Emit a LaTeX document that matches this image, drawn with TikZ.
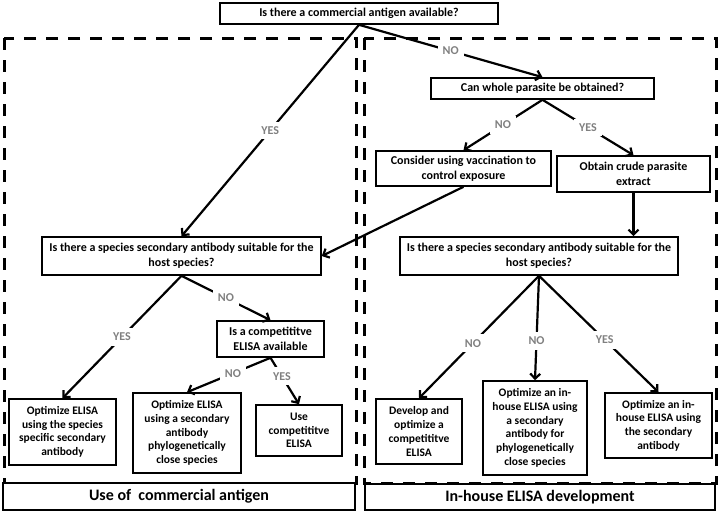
\documentclass[tikz,border=0pt]{standalone}
\usepackage{fontspec}
\setmainfont{Carlito}
\usepackage{tikz}
\usetikzlibrary{arrows.meta}

\begin{document}
\begin{tikzpicture}[
      x=1pt, y=-1pt,
      box/.style={
        draw, line width=1.6pt, fill=white, align=center,
        font=\bfseries\fontsize{11.5}{13.7}\selectfont,
        inner sep=1pt
      },
      midbox/.style={
        box, font=\bfseries\fontsize{12}{14.6}\selectfont
      },
      part/.style={
        draw, line width=2.4pt, fill=white,
        font=\bfseries\fontsize{16}{18}\selectfont
      },
      zone/.style={
        draw, line width=3pt, dash pattern=on 12pt off 10pt
      },
      arr/.style={
        line width=2.2pt, -{Straight Barb[length=5pt,width=10pt]}
      },
      ans/.style={
        fill=white, text=black!50, inner sep=5pt,
        font=\bfseries\fontsize{12}{14}\selectfont
      }
    ]
      \useasboundingbox (0,0) rectangle (720,514);

      % the two dashed zones
      \draw[zone] (4,38) rectangle (356,483);
      \draw[zone] (364,38) rectangle (716,483);
      \node[part, minimum width=352pt, minimum height=27pt] (useC) at (179,496.5){Use of \ commercial antigen};
      \node[part, minimum width=350pt, minimum height=26pt] (inH) at (540,497){In-house ELISA development};

      \node[midbox, minimum width=278pt, minimum height=21pt] (q1) at (359,13.5){Is there a commercial antigen available?};
      \node[midbox, minimum width=223pt, minimum height=21pt] (q2) at (542.5,88.5){Can whole parasite be obtained?};
      \node[midbox, minimum width=175pt, minimum height=35pt] (vacc) at (463.5,168.5){Consider using vaccination to\\control exposure};
      \node[midbox, minimum width=153pt, minimum height=36pt] (crude) at (633.5,174){Obtain crude parasite\\extract};
      \node[midbox, minimum width=279pt, minimum height=38pt] (secL) at (181.5,256){Is there a species secondary antibody suitable for the\\host species?};
      \node[midbox, minimum width=278pt, minimum height=38pt] (secR) at (539,256){Is there a species secondary antibody suitable for the\\host species?};
      \node[midbox, minimum width=107pt, minimum height=36pt] (comp) at (270.5,339){Is a competititve\\ELISA available};

      \node[box, minimum width=107pt, minimum height=66pt] (optL) at (62.5,432){Optimize ELISA\\using the species\\specific secondary\\antibody};
      \node[box, minimum width=108pt, minimum height=80pt] (optM) at (187,433){Optimize ELISA\\using a secondary\\antibody\\phylogenetically\\close species};
      \node[box, minimum width=86pt, minimum height=51pt] (useComp) at (299,430.5){Use\\competititve\\ELISA};
      \node[box, minimum width=86pt, minimum height=65pt] (dev) at (419,431.5){Develop and\\optimize a\\competititve\\ELISA};
      \node[box, minimum width=104pt, minimum height=94pt] (inM) at (535,428){Optimize an in-\\house ELISA using\\a secondary\\antibody for\\phylogenetically\\close species};
      \node[box, minimum width=107pt, minimum height=65pt] (inR) at (658.5,425.5){Optimize an in-\\house ELISA using\\the secondary\\antibody};

      \draw[arr] (q1.south) -- node[ans]{YES} (secL.north);
      \draw[arr] (q1.south) -- node[ans]{NO} (q2.north);
      \draw[arr] (q2.south) -- node[ans]{NO} (vacc.north);
      \draw[arr] (q2.south) -- node[ans]{YES} (crude.north);
      \draw[arr] (vacc.south) -- (secL.east);
      \draw[arr] (crude.south) -- (crude.south |- secR.north);

      \draw[arr] (secL.south) -- node[ans]{YES} (optL.north);
      \draw[arr] (secL.south) -- node[ans]{NO} (comp.north);
      \draw[arr] (comp.south) -- node[ans, pos=0.45]{NO} (optM.north);
      \draw[arr] (comp.south) -- node[ans, pos=0.4]{YES} (useComp.north);

      \draw[arr] (secR.south) -- node[ans, pos=0.55]{NO} (dev.north);
      \draw[arr] (secR.south) -- node[ans, pos=0.62]{NO} (inM.north);
      \draw[arr] (secR.south) -- node[ans, pos=0.55]{YES} (inR.north);
    \end{tikzpicture}
\end{document}
